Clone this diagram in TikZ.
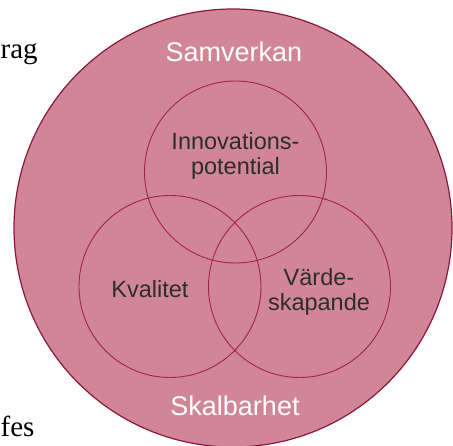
\documentclass[tikz,border=0pt]{standalone}
\usepackage{fontspec}
\setmainfont{Liberation Serif}
\setsansfont{Liberation Sans}
\definecolor{rosefill}{RGB}{208,134,150}
\definecolor{rosedark}{RGB}{140,22,60}
\definecolor{roseline}{RGB}{165,32,72}
\definecolor{labelgray}{RGB}{45,45,45}
\tikzset{
  outerring/.style={draw=rosedark, line width=1.2pt, fill=rosefill},
  innerring/.style={draw=roseline, line width=0.9pt},
  outerlabel/.style={text=white, font=\sffamily\fontsize{27}{29}\selectfont, inner sep=0pt},
  innerlabel/.style={text=labelgray, align=center, inner sep=0pt, font=\sffamily\fontsize{23.5}{25}\selectfont},
  pagetext/.style={font=\rmfamily\fontsize{29}{31}\selectfont, inner sep=0pt}
}

\begin{document}
\begin{tikzpicture}[x=1pt,y=-1pt]
  \useasboundingbox (0,0) rectangle (453,446);
  % text of the page round the figure
  \node[pagetext, anchor=base west] (rag) at (0.5,59) {rag};
  \node[pagetext, anchor=base west] (fes) at (0.5,437) {fes};
  % outer circle and the three inner circles
  \draw[outerring] (233,228) circle (219);
  \draw[innerring] (235.5,172) circle (91);
  \draw[innerring] (170,286.5) circle (91);
  \draw[innerring] (299.5,286.5) circle (91);
  % labels
  \node[outerlabel, anchor=base] (samverkan) at (234,62) {Samverkan};
  \node[outerlabel, anchor=base] (skalbarhet) at (235,416) {Skalbarhet};
  \node[innerlabel] (innovation) at (235.5,155.5) {Innovations-\\potential};
  \node[innerlabel, anchor=base] (kvalitet) at (150,298) {Kvalitet};
  \node[innerlabel] (varde) at (319,292) {Värde-\\skapande};
\end{tikzpicture}
\end{document}
